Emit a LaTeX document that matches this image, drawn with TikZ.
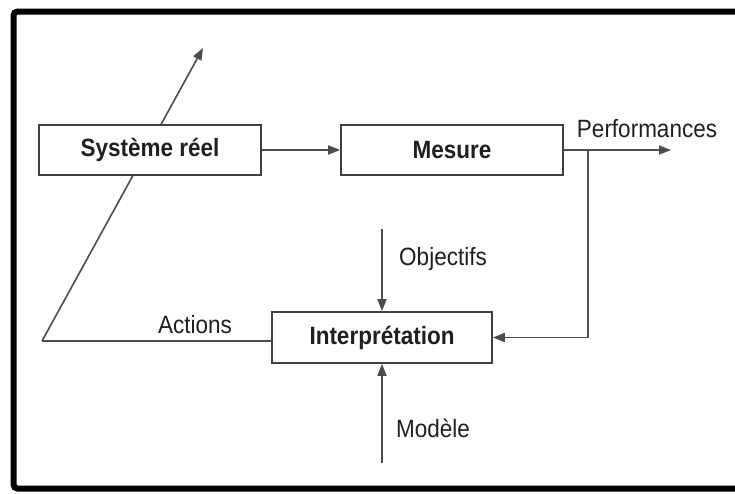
\documentclass[tikz,border=0pt]{standalone}
\usepackage{fontspec}
\setmainfont[FakeStretch=0.9]{Liberation Sans}
\usetikzlibrary{arrows.meta}
\begin{document}
\begin{tikzpicture}[x=1pt,y=-1pt,
  every node/.style={font=\fontsize{25}{30}\selectfont, text=black!88},
  blockbox/.style={draw=black!75, line width=1.6pt, fill=white, minimum width=222pt, minimum height=50pt, inner sep=0pt, font=\fontsize{25}{30}\selectfont\bfseries},
  conn/.style={draw=black!70, line width=1.6pt},
  arr/.style={conn, -{Triangle[length=12pt,width=9pt]}},
  lbl/.style={inner sep=0pt}
]
\useasboundingbox (0,0) rectangle (735,493);
% outer frame
\draw[black, line width=6pt, rounded corners=4pt] (13.5,11.5) rectangle (740,488.5);

\coordinate (act) at (42,341);
\coordinate (tip) at (203,48);
\draw[arr] (act) -- (tip);

\node[blockbox] (sys) at (150,150) {Système réel};
\node[blockbox] (mes) at (452,150) {Mesure};
\node[blockbox, minimum width=220pt, minimum height=51pt] (int) at (382,337.5) {Interprétation};

\draw[arr] (sys.east) -- (mes.west);
\coordinate (perf) at (671,150);
\draw[arr] (mes.east) -- (perf);
\coordinate (fb) at (588,150);
\draw[arr] (fb) |- (int.east);
\coordinate (obj) at (382,229);
\draw[arr] (obj) -- (int.north);
\coordinate (mod) at (382,463);
\draw[arr] (mod) -- (int.south);
\draw[conn] (act) -- (act -| int.west);

\node[lbl] (lperf) at (647,129) {Performances};
\node[lbl] (lobj) at (443,259) {Objectifs};
\node[lbl] (lact) at (195,325) {Actions};
\node[lbl] (lmod) at (433,428) {Modèle};
\end{tikzpicture}
\end{document}
